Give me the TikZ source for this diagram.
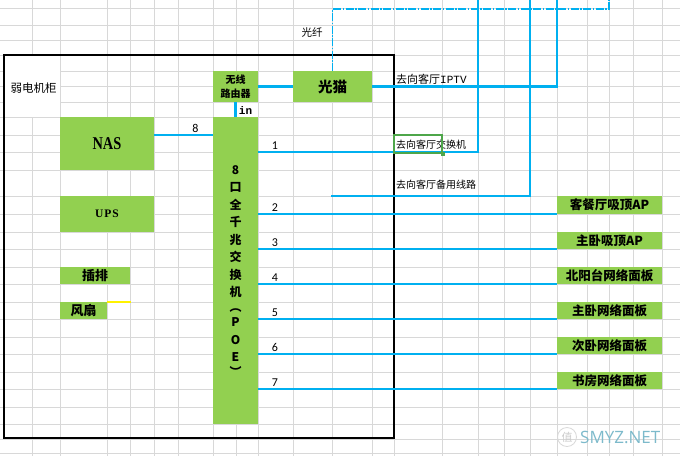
\documentclass[tikz,border=0pt]{standalone}
\usepackage{fontspec}
\newfontfamily\cjk{Noto Sans CJK SC}
\newfontfamily\lserif{Liberation Serif}
\newfontfamily\lmono{Liberation Mono}
\newfontfamily\carl{Carlito}
\newfontfamily\wmfont{Open Sans}
\definecolor{xgreen}{HTML}{92D050}
\definecolor{xblue}{HTML}{00B0F0}
\definecolor{xgrid}{HTML}{D8D8D8}
\definecolor{selgreen}{HTML}{4EA64A}
\definecolor{wmcol}{HTML}{7DBACB}
\begin{document}
\begin{tikzpicture}[x=1pt,y=-1pt,
  gridl/.style={xgrid,line width=0.9pt},
  gbox/.style={fill=xgreen,draw=none,inner sep=0pt,outer sep=0pt,font=\cjk\bfseries},
  wire/.style={xblue,line width=2.9pt},
  fiber/.style={xblue,line width=1.2pt,dash pattern=on 8pt off 1.5pt on 1.5pt off 1.5pt},
  num/.style={font=\carl\fontsize{12}{12}\selectfont,inner sep=0pt},
  lbl/.style={font=\cjk\fontsize{10}{10}\selectfont,inner sep=0pt,anchor=west},
  rbox/.style={gbox,minimum width=105pt,font=\cjk\bfseries\fontsize{12.5}{12.5}\selectfont},
  swchar/.style={inner sep=0pt,font=\cjk\bfseries\fontsize{12}{12}\selectfont}]
\useasboundingbox[fill=white] (0,0) rectangle (680,456);
% grid
\foreach \x in {32,60,107,130,154,178,213,236,258,293,332,372,394,442,478,504,530,557,587,609,633,662}
  \draw[gridl] (\x,0) -- (\x,456);
\foreach \y in {8,25,40,55,71,86,102,117,135,152,170,196,214,232,249,267,284,302,319,337,354,372,389,407,424,439,453}
  \draw[gridl] (0,\y) -- (680,\y);
% merged label cell
\fill[white] (4,55) rectangle (59.5,117);
% cabinet
\node[draw=black,line width=1.6pt,minimum width=390pt,minimum height=383pt,inner sep=0pt] (cab) at (199,246.5) {};
\node[font=\cjk\fontsize{11.5}{11.5}\selectfont,inner sep=0pt] (cabl) at (33.5,88) {弱电机柜};
% boxes
\node[gbox,minimum width=45pt,minimum height=31pt,align=center,font=\cjk\bfseries\fontsize{10}{13.5}\selectfont] (router) at (235.5,86.5) {无线\\路由器};
\node[gbox,minimum width=79pt,minimum height=31pt,font=\cjk\bfseries\fontsize{14.5}{14.5}\selectfont] (modem) at (332.5,86.5) {光猫};
\node[gbox,minimum width=94pt,minimum height=53pt,font=\lserif\bfseries\fontsize{18}{18}\selectfont] (nas) at (107,143.5) {\scalebox{0.8}[1]{NAS}};
\node[gbox,minimum width=94pt,minimum height=36pt,font=\lserif\bfseries\fontsize{11.5}{11.5}\selectfont] (ups) at (107,214) {U\kern1pt P\kern1pt S};
\node[gbox,minimum width=70pt,minimum height=17pt,font=\cjk\bfseries\fontsize{13}{13}\selectfont] (strip) at (95,275.5) {插排};
\node[gbox,minimum width=47pt,minimum height=17pt,font=\cjk\bfseries\fontsize{13}{13}\selectfont] (fan) at (83.5,310.5) {风扇};
\draw[yellow,line width=1.6pt] (fan.north east) -- ++(24,0);
\node[gbox,minimum width=45pt,minimum height=307pt] (sw) at (235.5,270.5) {};
\foreach \c/\yy [count=\i] in {8/170,口/187,全/205,千/222,兆/240,交/257,换/275,机/292,︵/311,P/322,O/340,E/357,︶/371}
  \node[swchar] (sc\i) at (235.5,\yy) {\c};
% right boxes
\node[rbox,minimum height=18pt] (r2) at (609.5,205) {客餐厅吸顶AP};
\node[rbox,minimum height=17pt] (r3) at (609.5,240.5) {主卧吸顶AP};
\node[rbox,minimum height=17pt] (r4) at (609.5,275.5) {北阳台网络面板};
\node[rbox,minimum height=17pt] (r5) at (609.5,310.5) {主卧网络面板};
\node[rbox,minimum height=17pt] (r6) at (609.5,345.5) {次卧网络面板};
\node[rbox,minimum height=17pt] (r7) at (609.5,380.5) {书房网络面板};
% coordinates
\coordinate (y135) at (0,135);
\coordinate (y152) at (0,152);
\coordinate (x275) at (275,0);
\coordinate (t1) at (478,0);
\coordinate (t2) at (530,0);
\coordinate (t3) at (557,0);
\coordinate (t4) at (609,0);
\coordinate (bk) at (331,196);
% wires
\draw[wire] (router.east) -- (modem.west);
\draw[wire] (router.south) -- (sw.north);
\draw[wire] (modem.east) -| (t3);
\draw[wire] (nas.east |- y135) -- (sw.west |- y135);
\draw[wire] (sw.east |- y152) -| (t1);
\draw[wire] (bk) -| (t2);
\foreach \i in {2,...,7}
  \draw[wire] (sw.east |- r\i.south west) -- (r\i.south west);
\draw[fiber] (modem.north) -- ++(0,-62) -| (t4);
% labels
\node[num] (n8) at (195.5,128) {8};
\node[num] (n1) at (275,146) {1};
\foreach \i in {2,...,7}
  \node[num,yshift=6.5pt] (n\i) at (x275 |- r\i.south west) {\i};
\node[inner sep=0pt,font=\lmono\bfseries\fontsize{11}{11}\selectfont] (inl) at (245.5,110.5) {in};
\node[font=\cjk\fontsize{10.5}{10.5}\selectfont,inner sep=0pt] (fib) at (312,33) {光纤};
\node[lbl,font=\cjk\fontsize{11}{11}\selectfont] (iptv) at (396,79.5) {去向客厅{\lmono IPTV}};
\node[lbl] (tosw) at (396,145) {去向客厅交换机};
\node[lbl] (tobk) at (396,185) {去向客厅备用线路};
\node[draw=selgreen,line width=1.5pt,minimum width=48pt,minimum height=18pt,inner sep=0pt] (sel) at (418,144) {};
\node[fill=selgreen,minimum size=3.5pt,inner sep=0pt] (selh) at (sel.south east) {};
% watermark
\node[draw=black!15,line width=0.8pt,circle,minimum size=19pt,inner sep=0pt,font=\cjk\fontsize{11}{11}\selectfont,text=black!20] (wm1) at (567,437) {值};
\node[anchor=west,inner sep=0pt,text=wmcol,font=\wmfont\fontsize{17}{17}\selectfont] (wm2) at (580,437) {SMYZ.NET};
\end{tikzpicture}
\end{document}
